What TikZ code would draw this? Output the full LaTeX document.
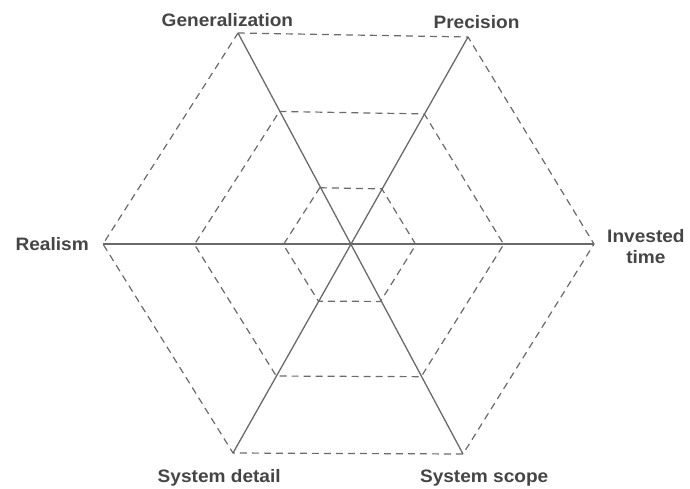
\documentclass[tikz,border=0pt]{standalone}
\usepackage{fontspec}
\setmainfont{Liberation Sans}
\usetikzlibrary{positioning,calc}
\definecolor{axisgray}{HTML}{6A6A6A}
\definecolor{lblgray}{HTML}{454545}
\tikzset{axis/.style={draw=axisgray,line width=1.3pt},
         ring/.style={draw=axisgray,line width=1.2pt,dash pattern=on 7pt off 5pt},
         lbl/.style={font=\fontsize{18}{21}\selectfont\bfseries,text=lblgray,align=center,inner sep=0pt,xscale=1.06}}

\begin{document}
\begin{tikzpicture}[x=1pt,y=-1pt]
\useasboundingbox (0,0) rectangle (690,488);
\coordinate (c) at (350,245);
\coordinate (tl) at (238,33);
\coordinate (tr) at (468,37);
\coordinate (r) at (594,244);
\coordinate (br) at (463,454);
\coordinate (bl) at (233,453);
\coordinate (l) at (103,244);
% axes
\draw[axis] (tl) -- (br);
\draw[axis] (tr) -- (bl);
\draw[axis] (l) -- (r);
% rings
\foreach \s in {1,0.63,0.27}
  \draw[ring] ($(c)!\s!(tl)$) -- ($(c)!\s!(tr)$) -- ($(c)!\s!(r)$) -- ($(c)!\s!(br)$)
    -- ($(c)!\s!(bl)$) -- ($(c)!\s!(l)$) -- cycle;
% labels
\node[lbl,above=6pt of tl,xshift=-10pt] (gen) {Generalization};
\node[lbl,above=8pt of tr,xshift=8pt] (prec) {Precision};
\node[lbl,right=13pt of r,yshift=-3pt] (time) {Invested\\time};
\node[lbl,left=14pt of l] (real) {Realism};
\node[lbl,below=16pt of bl,xshift=-13pt] (det) {System detail};
\node[lbl,below=16pt of br,xshift=20pt] (scope) {System scope};
\end{tikzpicture}
\end{document}
